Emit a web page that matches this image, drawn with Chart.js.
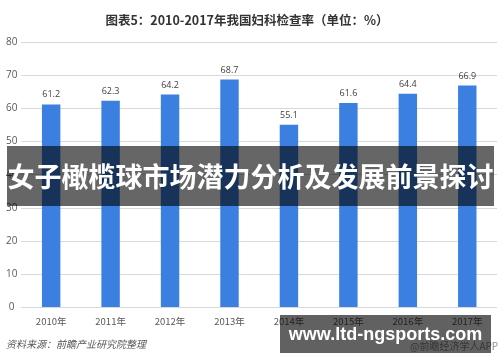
<!DOCTYPE html>
<html>
<head>
<meta charset="utf-8">
<script src="https://cdn.jsdelivr.net/npm/chart.js@4"></script>
<style>
  html, body { margin: 0; padding: 0; background: #fff; }
  #wrap { position: relative; width: 500px; height: 362px; overflow: hidden; }
  #chartTitle { position: absolute; left: 0; width: 494px; top: 10px; text-align: center;
    font: bold 12.5px "Noto Sans CJK SC", sans-serif; color: #333; }
  #source { position: absolute; left: 6px; top: 336px; font: italic 10px "Noto Sans CJK SC", sans-serif; color: #595959; }
  #app { position: absolute; left: 410px; top: 338px; font: 10px "Noto Sans CJK SC", sans-serif; color: #8c8c8c; white-space: nowrap; }
  #banner { position: absolute; left: 7px; top: 146px; width: 487px; height: 60px; background: rgba(0,0,0,0.6);
    color: #fff; font: bold 27px "Noto Sans CJK SC", sans-serif; line-height: 60px; text-align: center; white-space: nowrap; }
  #site { position: absolute; left: 280px; top: 315px; width: 211px; height: 38px; background: rgba(0,0,0,0.62);
    color: #fff; font: bold 18px "Liberation Sans", Arial, sans-serif; line-height: 38px; text-align: center; }
</style>
</head>
<body>
<div id="wrap">
  <canvas id="rateChart" width="500" height="362"></canvas>
  <div id="chartTitle">图表5：2010-2017年我国妇科检查率（单位：%）</div>
  <div id="source">资料来源：前瞻产业研究院整理</div>
  <div id="app">@前瞻经济学人APP</div>
  <div id="banner">女子橄榄球市场潜力分析及发展前景探讨</div>
  <div id="site">www.ltd-ngsports.com</div>
</div>
<script>
const years = ['2010年', '2011年', '2012年', '2013年', '2014年', '2015年', '2016年', '2017年'];
const rates = [61.2, 62.3, 64.2, 68.7, 55.1, 61.6, 64.4, 66.9];
const yTicks = [0, 10, 20, 30, 40, 50, 60, 70, 80];

const valueLabels = {
    id: 'valueLabels',
    afterDatasetsDraw(chart) {
        const c = chart.ctx;
        const meta = chart.getDatasetMeta(0);
        c.save();
        c.font = '9px "Open Sans", "Noto Sans", sans-serif';
        c.fillStyle = '#404040';
        c.textAlign = 'center';
        c.textBaseline = 'bottom';
        meta.data.forEach((bar, i) => {
            c.fillText(rates[i].toFixed(1), bar.x, bar.y - 5);
        });
        c.restore();
    }
};

const ctx = document.getElementById('rateChart').getContext('2d');
new Chart(ctx, {
    type: 'bar',
    data: {
        labels: years,
        datasets: [{
            data: rates,
            backgroundColor: '#3b80e0',
            categoryPercentage: 1,
            barPercentage: 0.31
        }]
    },
    options: {
        responsive: false,
        animation: false,
        layout: { padding: { top: 42, left: 2, right: 3, bottom: 35 } },
        plugins: { legend: { display: false }, tooltip: { enabled: false } },
        scales: {
            x: {
                grid: { display: false },
                border: { display: false },
                ticks: { color: '#595959', padding: 0, font: { size: 9.5, family: '"Noto Sans CJK SC", sans-serif' } }
            },
            y: {
                min: 0,
                max: 80,
                afterBuildTicks(scale) { scale.ticks = yTicks.map(v => ({ value: v })); },
                grid: { color: '#d9d9d9', drawTicks: false },
                border: { display: false },
                ticks: { color: '#595959', padding: 4, crossAlign: 'center', font: { size: 10, family: '"Open Sans", sans-serif' } }
            }
        }
    },
    plugins: [valueLabels]
});
</script>
</body>
</html>
